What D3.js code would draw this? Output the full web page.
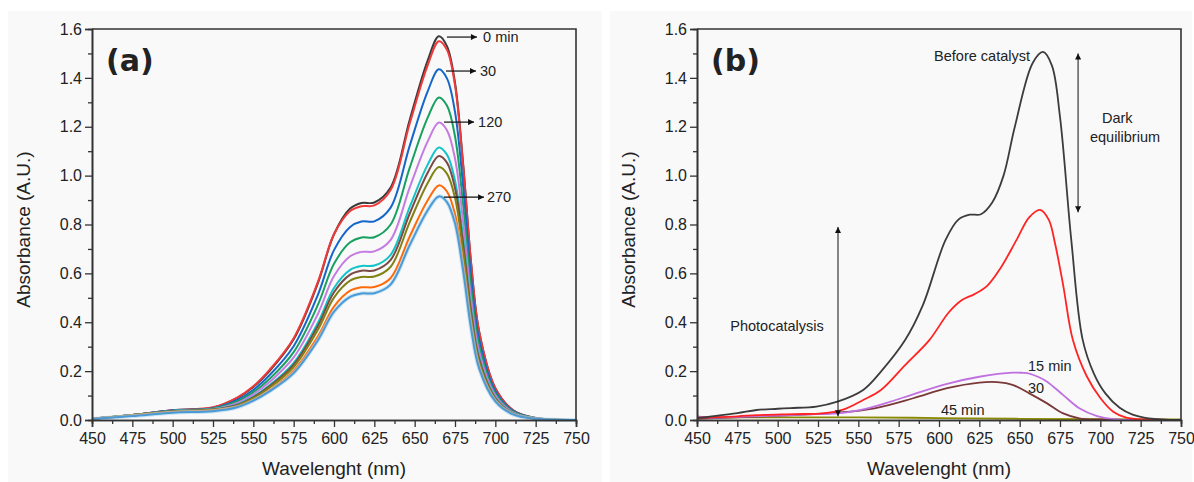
<!DOCTYPE html>
<html>
<head>
<meta charset="utf-8">
<script src="https://d3js.org/d3.v7.min.js"></script>
<style>
body { margin: 0; background: #fff; }
svg text { font-family: "Liberation Sans", Arial, sans-serif; fill: #222; }
.tick text { font-size: 16px; }
</style>
</head>
<body>
<svg width="1194" height="482"></svg>
<script>
// axis ticks
const xTicks = [450, 475, 500, 525, 550, 575, 600, 625, 650, 675, 700, 725, 750]
const yTicks = [0, 0.2, 0.4, 0.6, 0.8, 1.0, 1.2, 1.4, 1.6]

// panel (a) : spectra over time
const wlA = [450, 475, 500, 525, 540, 550, 560, 575, 590, 600, 610, 617, 625, 635, 647, 658, 665, 670, 675, 680, 685, 690, 700, 711, 725, 750]
const aBlack  = [0.005,0.02,0.04,0.05,0.09,0.135,0.2,0.33,0.56,0.76,0.865,0.888,0.89,0.95,1.23,1.47,1.57,1.53,1.38,1.05,0.64,0.36,0.13,0.04,0.008,0]
const aRed    = [0.005,0.02,0.04,0.052,0.092,0.138,0.205,0.335,0.565,0.76,0.855,0.875,0.878,0.94,1.215,1.45,1.55,1.515,1.37,1.045,0.64,0.36,0.13,0.04,0.008,0]
const aBlue   = [0.005,0.02,0.04,0.048,0.082,0.123,0.183,0.302,0.512,0.695,0.79,0.812,0.813,0.868,1.124,1.344,1.435,1.398,1.261,0.96,0.585,0.329,0.119,0.037,0.007,0]
const aGreen  = [0.005,0.02,0.038,0.047,0.076,0.114,0.168,0.278,0.471,0.639,0.727,0.747,0.748,0.799,1.034,1.236,1.32,1.287,1.161,0.883,0.538,0.303,0.109,0.034,0.007,0]
const aViolet = [0.005,0.02,0.037,0.045,0.07,0.105,0.155,0.256,0.434,0.589,0.67,0.688,0.69,0.736,0.953,1.139,1.217,1.186,1.07,0.814,0.496,0.279,0.101,0.031,0.006,0]
const aCyan   = [0.005,0.02,0.037,0.044,0.064,0.096,0.142,0.234,0.398,0.54,0.614,0.63,0.632,0.675,0.873,1.044,1.115,1.086,0.98,0.746,0.454,0.256,0.092,0.028,0.006,0]
const aBrown  = [0.005,0.02,0.036,0.043,0.062,0.093,0.138,0.227,0.385,0.523,0.595,0.611,0.612,0.654,0.846,1.011,1.08,1.053,0.949,0.722,0.44,0.248,0.089,0.028,0.006,0]
const aOlive  = [0.005,0.02,0.035,0.042,0.059,0.089,0.132,0.217,0.369,0.501,0.57,0.585,0.587,0.626,0.811,0.969,1.035,1.008,0.909,0.692,0.422,0.237,0.086,0.026,0.005,0]
const aOrange = [0.005,0.018,0.033,0.04,0.055,0.082,0.122,0.202,0.342,0.464,0.529,0.543,0.544,0.58,0.752,0.898,0.96,0.935,0.843,0.642,0.391,0.22,0.079,0.024,0.005,0]
const aLBlue  = [0.004,0.016,0.03,0.036,0.052,0.079,0.117,0.192,0.326,0.443,0.504,0.518,0.519,0.554,0.717,0.857,0.915,0.892,0.805,0.612,0.373,0.21,0.076,0.023,0.005,0]

// panel (b) : dark equilibrium + photocatalysis
const wlBBlack = [450,458,475,487,500,508,524,537,553,564,579,590,604,612,619,626,633,640,647,658,664.5,670,675,682,689,696,703,712,720,730,750]
const bBlack   = [0.008,0.014,0.028,0.041,0.046,0.049,0.055,0.075,0.123,0.198,0.327,0.47,0.736,0.82,0.84,0.842,0.89,1.0,1.2,1.46,1.506,1.45,1.24,0.736,0.33,0.19,0.11,0.05,0.022,0.007,0]
const wlBRed = [450,475,487,510,528,540,553,564,579,594,606,614,622,630,638,648,656,662.6,668,672,677,683,691.5,700,708,716,730,750]
const bRed   = [0.01,0.015,0.02,0.024,0.027,0.041,0.082,0.123,0.225,0.327,0.44,0.49,0.515,0.55,0.62,0.736,0.83,0.86,0.82,0.72,0.55,0.327,0.18,0.09,0.034,0.01,0.002,0]
const wlBViolet = [450,458,475,500,520,537,557,570,584,605,625,646,652,656,662,667,677,687,698,708,750]
const bViolet   = [0.015,0.01,0.013,0.018,0.023,0.027,0.05,0.075,0.105,0.148,0.177,0.194,0.193,0.19,0.175,0.157,0.102,0.048,0.016,0.004,0]
const wlBBrown = [450,470,487,510,537,560,584,605,625,636,646,656,667,677,687,700,750]
const bBrown   = [0.005,0.01,0.014,0.02,0.03,0.048,0.089,0.13,0.153,0.155,0.143,0.109,0.068,0.027,0.007,0.002,0]
const wlBOlive = [450,500,550,600,650,700,750]
const bOlive   = [0.01,0.011,0.011,0.008,0.005,0.003,0.002]

const svg = d3.select('svg')

// arrow head
svg.append('defs').append('marker')
	.attr('id', 'arr')
	.attr('viewBox', '0 0 10 10')
	.attr('refX', 10).attr('refY', 5)
	.attr('markerUnits', 'userSpaceOnUse')
	.attr('markerWidth', 9).attr('markerHeight', 6)
	.attr('orient', 'auto-start-reverse')
	.append('path').attr('d', 'M0,0 L10,5 L0,10 z').attr('fill', '#111')

function drawPanel(cfg) {
	const { bgX, bgW, left, top, width, height, tag, curves, notes, arrows, lineW } = cfg
	svg.append('rect')
		.attr('x', bgX).attr('y', 11).attr('width', bgW).attr('height', 471)
		.attr('fill', '#f9f9f9')

	const x = d3.scaleLinear().domain([450, 750]).range([left, left + width])
	const y = d3.scaleLinear().domain([0, 1.6]).range([top + height, top])

	// curves
	const line = d3.line().x(d => x(d[0])).y(d => Math.min(y(d[1]), top + height)).curve(d3.curveCatmullRom.alpha(0.5))
	curves.forEach(c => {
		const pts = c.wl.map((w, i) => [w, c.v[i]])
		if (c.halo) {
			svg.append('path').attr('d', line(pts)).attr('fill', 'none')
				.attr('stroke', c.halo).attr('stroke-width', lineW + 2).attr('stroke-opacity', 0.6)
		}
		svg.append('path').attr('d', line(pts))
			.attr('fill', 'none').attr('stroke', c.color)
			.attr('stroke-width', lineW).attr('stroke-linejoin', 'round')
	})

	// axes
	const xMinor = d3.pairs(xTicks).map(p => (p[0] + p[1]) / 2)
	const yMinor = d3.pairs(yTicks).map(p => (p[0] + p[1]) / 2)
	svg.append('g').attr('transform', `translate(0,${top + height})`)
		.call(d3.axisBottom(x).tickValues(xMinor).tickSize(4).tickFormat(''))
	svg.append('g').attr('transform', `translate(${left},0)`)
		.call(d3.axisLeft(y).tickValues(yMinor).tickSize(4).tickFormat(''))
	svg.append('g').attr('transform', `translate(0,${top + height})`)
		.call(d3.axisBottom(x).tickValues(xTicks).tickSize(7).tickPadding(6).tickFormat(d3.format('d')))
	svg.append('g').attr('transform', `translate(${left},0)`)
		.call(d3.axisLeft(y).tickValues(yTicks).tickSize(7).tickPadding(3).tickFormat(d3.format('.1f')))
	svg.selectAll('.domain').attr('stroke', '#333').attr('stroke-width', 1.6)
	svg.selectAll('.tick line').attr('stroke', '#333').attr('stroke-width', 1.3)
	svg.selectAll('.tick text').attr('fill', '#222')

	// frame top / right
	svg.append('path')
		.attr('d', `M${left},${top}H${left + width}V${top + height}`)
		.attr('fill', 'none').attr('stroke', '#333').attr('stroke-width', 1.6)

	// titles
	svg.append('text')
		.attr('x', (left + left + width) / 2).attr('y', 475)
		.attr('text-anchor', 'middle').style('font-size', '19px')
		.text('Wavelenght (nm)')
	svg.append('text')
		.attr('transform', `translate(${left - 62},${top + height / 2 + 5}) rotate(-90)`)
		.attr('text-anchor', 'middle').style('font-size', '19px')
		.text('Absorbance (A.U.)')
	svg.append('text')
		.attr('x', left + 14).attr('y', 71)
		.style('font-family', '"DejaVu Sans", Verdana, sans-serif')
		.style('font-weight', 'bold').style('font-size', '30px')
		.attr('fill', '#111')
		.text(tag)

	// arrows
	arrows.forEach(a => {
		const p = svg.append('line')
			.attr('x1', x(a.from[0])).attr('y1', y(a.from[1]))
			.attr('x2', x(a.to[0])).attr('y2', y(a.to[1]))
			.attr('stroke', '#111').attr('stroke-width', a.w || 1.2)
			.attr('marker-end', 'url(#arr)')
		if (a.both) p.attr('marker-start', 'url(#arr)')
	})

	// labels
	notes.forEach(n => {
		svg.append('text')
			.attr('x', x(n.at[0])).attr('y', y(n.at[1]))
			.attr('dy', '0.35em')
			.attr('text-anchor', n.anchor || 'start')
			.style('font-size', (n.size || 14.5) + 'px')
			.text(n.text)
	})
}

drawPanel({
	bgX: 8, bgW: 594, left: 92, top: 29, width: 484, height: 391, tag: '(a)', lineW: 2,
	curves: [
		{ wl: wlA, v: aBlack, color: '#3a3a3a' },
		{ wl: wlA, v: aRed, color: '#f03a3a' },
		{ wl: wlA, v: aBlue, color: '#1566c8' },
		{ wl: wlA, v: aGreen, color: '#17a060' },
		{ wl: wlA, v: aViolet, color: '#c47ce0' },
		{ wl: wlA, v: aCyan, color: '#14c4c8' },
		{ wl: wlA, v: aBrown, color: '#7a4a44' },
		{ wl: wlA, v: aOlive, color: '#828214' },
		{ wl: wlA, v: aOrange, color: '#ff6a0a' },
		{ wl: wlA, v: aLBlue, color: '#4a9ad6', halo: '#a9d4ee' }
	],
	arrows: [
		{ from: [670, 1.567], to: [688.6, 1.567] },
		{ from: [669.4, 1.428], to: [688, 1.428] },
		{ from: [668.2, 1.219], to: [686.8, 1.219] },
		{ from: [668.2, 0.912], to: [693, 0.912] }
	],
	notes: [
		{ text: '0 min', at: [692.4, 1.567] },
		{ text: '30', at: [690.5, 1.428] },
		{ text: '120', at: [689.3, 1.219] },
		{ text: '270', at: [694.8, 0.912] }
	]
})

drawPanel({
	bgX: 610, bgW: 582, left: 697, top: 29, width: 484, height: 391, tag: '(b)', lineW: 1.8,
	curves: [
		{ wl: wlBOlive, v: bOlive, color: '#8a8a00' },
		{ wl: wlBBrown, v: bBrown, color: '#7a3838' },
		{ wl: wlBViolet, v: bViolet, color: '#c070e0' },
		{ wl: wlBRed, v: bRed, color: '#ff2424' },
		{ wl: wlBBlack, v: bBlack, color: '#3c3c3c' }
	],
	arrows: [
		{ from: [686.2, 1.5], to: [686.2, 0.85], both: true, w: 1 },
		{ from: [537.4, 0.015], to: [537.4, 0.79], both: true, w: 1 }
	],
	notes: [
		{ text: 'Before catalyst', at: [656.4, 1.49], anchor: 'end' },
		{ text: 'Dark', at: [710.5, 1.235], anchor: 'middle' },
		{ text: 'equilibrium', at: [715.3, 1.158], anchor: 'middle' },
		{ text: 'Photocatalysis', at: [499.6, 0.385], anchor: 'middle' },
		{ text: '15 min', at: [655.2, 0.22] },
		{ text: '30', at: [655.2, 0.13] },
		{ text: '45 min', at: [601.2, 0.04] }
	]
})
</script>
</body>
</html>
